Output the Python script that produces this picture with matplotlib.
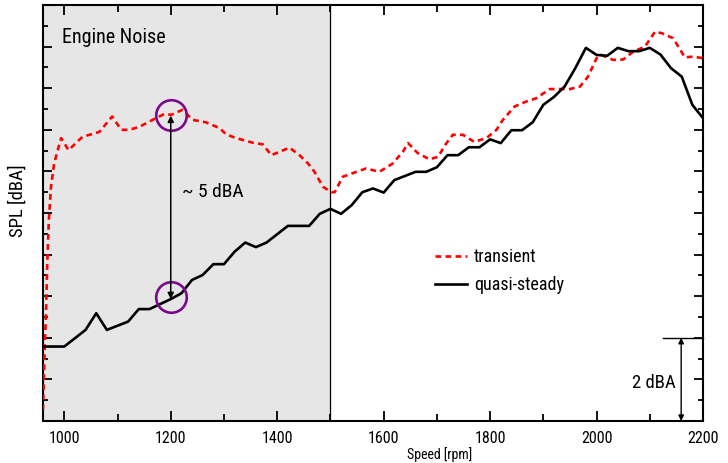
import matplotlib
matplotlib.use('Agg')
import matplotlib.pyplot as plt
from matplotlib.ticker import MultipleLocator, NullFormatter

plt.rcParams['font.family'] = ['Liberation Sans Narrow', 'Roboto Condensed', 'Open Sans Condensed',
                               'DejaVu Sans Condensed', 'DejaVu Sans']
plt.rcParams['font.stretch'] = 'condensed'

# quasi-steady (black, solid)
steady_rpm = [960, 1000, 1040, 1060, 1080, 1120, 1140, 1160, 1200, 1220, 1240, 1260,
              1280, 1300, 1320, 1340, 1360, 1380, 1420, 1460, 1480, 1500, 1520, 1540,
              1560, 1580, 1600, 1620, 1660, 1680, 1700, 1720, 1740, 1760, 1780, 1800,
              1820, 1840, 1860, 1880, 1900, 1920, 1940, 1960, 1980, 2000, 2020, 2040,
              2060, 2080, 2100, 2120, 2140, 2160, 2180, 2200]
steady_spl = [1.79, 1.79, 2.19, 2.59, 2.19, 2.39, 2.69, 2.69, 2.93, 3.07, 3.39, 3.51,
              3.77, 3.77, 4.07, 4.29, 4.18, 4.29, 4.69, 4.69, 4.98, 5.10, 4.98, 5.19,
              5.50, 5.59, 5.49, 5.79, 5.99, 5.99, 6.10, 6.39, 6.39, 6.58, 6.58, 6.77,
              6.68, 6.99, 6.99, 7.18, 7.60, 7.79, 8.04, 8.48, 8.97, 8.80, 8.78, 8.97,
              8.89, 8.89, 8.97, 8.81, 8.48, 8.28, 7.60, 7.28]

# transient (red, dashed)
trans_rpm = [960, 963, 966, 968, 971, 975, 981, 994, 1008, 1034, 1066, 1090, 1107,
             1122, 1141, 1166, 1188, 1201, 1222, 1241, 1266, 1292, 1304, 1323, 1354,
             1373, 1389, 1423, 1442, 1458, 1470, 1486, 1502, 1508, 1523, 1549, 1567,
             1592, 1617, 1636, 1646, 1664, 1686, 1702, 1718, 1730, 1749, 1770, 1793,
             1812, 1824, 1846, 1868, 1887, 1912, 1950, 1969, 1984, 2000, 2009, 2031,
             2050, 2069, 2091, 2110, 2123, 2144, 2166, 2182, 2200]
trans_spl = [0.26, 1.63, 2.74, 3.80, 4.83, 5.63, 6.20, 6.80, 6.51, 6.83, 6.95, 7.32, 7.00,
             7.00, 7.07, 7.24, 7.38, 7.36, 7.48, 7.24, 7.18, 7.04, 6.89, 6.80, 6.69,
             6.65, 6.39, 6.57, 6.39, 6.19, 5.99, 5.63, 5.50, 5.50, 5.87, 5.99, 6.07,
             5.99, 6.19, 6.47, 6.68, 6.44, 6.29, 6.35, 6.68, 6.88, 6.88, 6.71, 6.80,
             7.00, 7.24, 7.56, 7.68, 7.76, 7.98, 7.98, 8.04, 8.28, 8.72, 8.80, 8.68,
             8.69, 8.88, 9.00, 9.36, 9.32, 9.20, 8.74, 8.76, 8.72]

x_ticks = [1000, 1200, 1400, 1600, 1800, 2000, 2200]
diff_rpm = 1200
diff_top = 7.36
diff_bottom = 2.98
scale_rpm = 2159
scale_span = 2.0

fig = plt.figure(figsize=(7.28, 4.63), dpi=100)
ax = fig.add_axes([43 / 728, 42 / 463, 660 / 728, 416 / 463])

ax.axvspan(960, 1500, color='#e6e6e6', zorder=0, lw=0)
ax.axvline(1500, color='black', lw=0.9, zorder=1)

ax.plot(trans_rpm, trans_spl, color='red', lw=1.9, ls=(0, (2.2, 1.6)), label='transient', zorder=3)
ax.plot(steady_rpm, steady_spl, color='black', lw=1.9, label='quasi-steady', zorder=3)

# ~5 dBA difference marker
ax.plot([diff_rpm, diff_rpm], [diff_top, diff_bottom], ls='none', marker='o', ms=22,
        mfc='none', mec='#7b0a8a', mew=1.9, zorder=4)
ax.annotate('', xy=(diff_rpm, diff_top - 0.02), xytext=(diff_rpm, diff_bottom - 0.05),
            arrowprops=dict(arrowstyle='<|-|>', color='black', lw=1.1, mutation_scale=9,
                            shrinkA=0, shrinkB=0), zorder=5)
ax.text(1222, 5.5, '~ 5 dBA', fontsize=14, ha='left', va='center')

# 2 dBA scale bar
ax.plot([2125, 2200], [scale_span, scale_span], color='black', lw=1.0, clip_on=False)
ax.annotate('', xy=(scale_rpm, scale_span), xytext=(scale_rpm, 0),
            arrowprops=dict(arrowstyle='<|-|>', color='black', lw=1.0, mutation_scale=8,
                            shrinkA=0, shrinkB=0))
ax.text(2148, 0.91, '2 dBA', fontsize=13.5, ha='right', va='center')

ax.text(996, 9.23, 'Engine Noise', fontsize=14.5, ha='left', va='center')

ax.set_xlim(960, 2200)
ax.set_ylim(0, 10)
ax.set_xticks(x_ticks)
ax.xaxis.set_minor_locator(MultipleLocator(100))
ax.yaxis.set_major_locator(MultipleLocator(1))
ax.yaxis.set_minor_locator(MultipleLocator(0.5))
ax.yaxis.set_major_formatter(NullFormatter())
ax.tick_params(which='both', direction='in', top=True, right=True, width=1.3)
ax.tick_params(axis='x', which='major', length=7, labelsize=11.5, pad=7)
ax.tick_params(axis='x', which='minor', length=5)
ax.tick_params(axis='y', which='major', length=6.5)
ax.tick_params(axis='y', which='minor', length=3.5)
for s in ax.spines.values():
    s.set_linewidth(1.5)

ax.set_xlabel('Speed [rpm]', fontsize=10)
ax.xaxis.set_label_coords(0.6015, -0.062)
ax.set_ylabel('SPL [dBA]', fontsize=13.5)
ax.yaxis.set_label_coords(-0.025, 0.529)

ax.legend(loc='upper left', bbox_to_anchor=(0.594, 0.415), frameon=False, fontsize=13,
          handlelength=1.75, handletextpad=0.4, labelspacing=0.55, borderpad=0,
          borderaxespad=0)

plt.savefig('out.png', dpi=100)
plt.close()
